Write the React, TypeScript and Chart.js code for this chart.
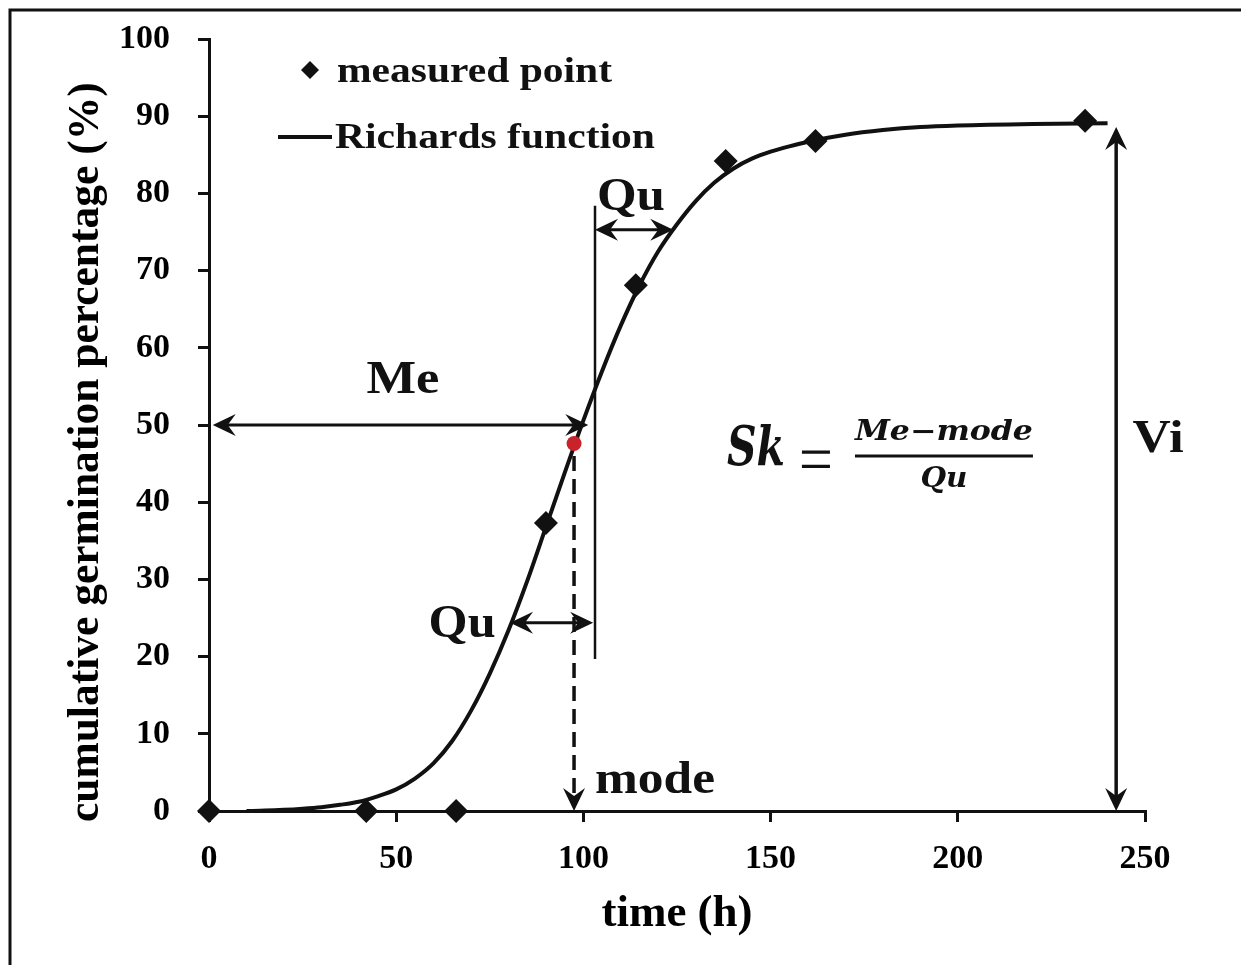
import React, { useEffect, useRef } from "react";
import { Chart, registerables } from "chart.js";

Chart.register(...registerables);

const SERIF = '"Liberation Serif", "Times New Roman", serif';
const MATH = '"DejaVu Serif", serif';
const INK = "#111111";

// measured points
const measuredTime = [0, 42, 66, 90, 114, 138, 162, 234];
const measuredPct = [0, 0, 0, 37.3, 68.1, 84.2, 86.8, 89.4];

// fitted Richards curve
const curveTime = [10, 15, 20, 25, 30, 35, 40, 45, 50, 55, 60, 65, 70, 75, 80, 85, 90, 95, 100, 105, 110, 115, 120, 125, 130, 135, 140, 145, 150, 155, 160, 170, 180, 190, 200, 220, 240];
const curvePct = [0, 0.05, 0.15, 0.3, 0.5, 0.8, 1.2, 1.9, 2.8, 4.2, 6.2, 9.1, 13.0, 17.8, 23.4, 29.8, 36.8, 43.8, 50.6, 57.0, 62.9, 68.1, 72.5, 76.0, 79.0, 81.4, 83.2, 84.5, 85.4, 86.1, 86.7, 87.6, 88.2, 88.6, 88.8, 89.0, 89.1];

// axis ticks
const xTicks = [0, 50, 100, 150, 200, 250];
const yTicks = [0, 10, 20, 30, 40, 50, 60, 70, 80, 90, 100];

// annotation geometry in data units [time, percent]
const meArrow = [[1, 50], [101.3, 50]];
const quUpperArrow = [[103.1, 75.3], [124, 75.3]];
const quLowerArrow = [[80.4, 24.4], [102.6, 24.4]];
const viArrow = [[242.3, 88.6], [242.3, 0]];
const modeDash = [[97.5, 46], [97.5, 0]];
const quartileLine = [[103.1, 78.4], [103.1, 19.7]];
const modePoint = [97.5, 47.6];

// annotation labels
const labelText = ["Me", "Qu", "Qu", "mode", "Vi"];
const labelTime = [51.8, 112.7, 67.6, 103.1, 253.5];
const labelPct = [54.1, 77.8, 22.5, 2.3, 46.5];
const labelAlign = ["center", "center", "center", "left", "center"];
const labelWidth = [73, 68, 67, 120, 51];
const formulaAnchor = [196.3, 46.0];

function fillTextFit(ctx: CanvasRenderingContext2D, text: string, x: number, y: number, font: string, width: number, align: string) {
  ctx.save();
  ctx.font = font;
  ctx.textBaseline = "alphabetic";
  ctx.textAlign = "left";
  const w = ctx.measureText(text).width;
  const sx = width / w;
  let left = x;
  if (align === "center") left = x - width / 2;
  else if (align === "right") left = x - width;
  ctx.translate(left, y);
  ctx.scale(sx, 1);
  ctx.fillText(text, 0, 0);
  ctx.restore();
}

function head(ctx: CanvasRenderingContext2D, tx: number, ty: number, fx: number, fy: number, L = 23, W = 11, notch = 8) {
  const dx = tx - fx, dy = ty - fy;
  const len = Math.hypot(dx, dy) || 1;
  const ux = dx / len, uy = dy / len;
  const nx = -uy, ny = ux;
  ctx.beginPath();
  ctx.moveTo(tx, ty);
  ctx.lineTo(tx - ux * L + nx * W, ty - uy * L + ny * W);
  ctx.lineTo(tx - ux * (L - notch), ty - uy * (L - notch));
  ctx.lineTo(tx - ux * L - nx * W, ty - uy * L - ny * W);
  ctx.closePath();
  ctx.fill();
}

function arrow(ctx: CanvasRenderingContext2D, a: number[], b: number[], both: boolean, lw: number, dash?: number[]) {
  const [ax, ay] = a, [bx, by] = b;
  const len = Math.hypot(bx - ax, by - ay);
  const ux = (bx - ax) / len, uy = (by - ay) / len;
  const inset = 14;
  const sx = both ? ax + ux * inset : ax, sy = both ? ay + uy * inset : ay;
  const ex = bx - ux * inset, ey = by - uy * inset;
  ctx.save();
  ctx.lineWidth = lw;
  ctx.strokeStyle = INK;
  ctx.fillStyle = INK;
  if (dash) ctx.setLineDash(dash);
  ctx.beginPath();
  ctx.moveTo(sx, sy);
  ctx.lineTo(ex, ey);
  ctx.stroke();
  ctx.setLineDash([]);
  head(ctx, bx, by, ax, ay);
  if (both) head(ctx, ax, ay, bx, by);
  ctx.restore();
}

const annotatePlugin = {
  id: "annotate",
  beforeDraw(chart: any) {
    const { ctx, width, height } = chart;
    ctx.save();
    ctx.fillStyle = "#ffffff";
    ctx.fillRect(0, 0, width, height);
    ctx.strokeStyle = INK;
    ctx.lineWidth = 3;
    ctx.strokeRect(10, 10, width + 40, height + 40);
    ctx.restore();
  },
  afterDatasetsDraw(chart: any) {
    const { ctx, chartArea } = chart;
    const xs = chart.scales.x, ys = chart.scales.y;
    const P = (p: number[]) => [xs.getPixelForValue(p[0]), ys.getPixelForValue(p[1])];

    // vertical quartile line
    ctx.save();
    ctx.strokeStyle = INK;
    ctx.lineWidth = 2.5;
    const q0 = P(quartileLine[0]), q1 = P(quartileLine[1]);
    ctx.beginPath();
    ctx.moveTo(q0[0], q0[1]);
    ctx.lineTo(q1[0], q1[1]);
    ctx.stroke();
    ctx.restore();

    arrow(ctx, P(meArrow[0]), P(meArrow[1]), true, 3);
    arrow(ctx, P(quUpperArrow[0]), P(quUpperArrow[1]), true, 3);
    arrow(ctx, P(quLowerArrow[0]), P(quLowerArrow[1]), true, 3);
    arrow(ctx, P(viArrow[0]), P(viArrow[1]), true, 3.5);
    arrow(ctx, P(modeDash[0]), P(modeDash[1]), false, 3.5, [15, 8]);

    // mode point
    const m = P(modePoint);
    ctx.save();
    ctx.fillStyle = "#c8232a";
    ctx.beginPath();
    ctx.arc(m[0], m[1], 7.5, 0, Math.PI * 2);
    ctx.fill();
    ctx.restore();

    // labels
    ctx.save();
    ctx.fillStyle = INK;
    for (let i = 0; i < labelText.length; i++) {
      const [lx, ly] = P([labelTime[i], labelPct[i]]);
      fillTextFit(ctx, labelText[i], lx, ly, `bold 46px ${SERIF}`, labelWidth[i], labelAlign[i]);
    }
    ctx.restore();

    // formula
    const [fx, fy] = P(formulaAnchor);
    ctx.save();
    ctx.fillStyle = INK;
    ctx.strokeStyle = INK;
    fillTextFit(ctx, "Sk", fx - 217, fy + 9, `italic bold 54px ${MATH}`, 58, "left");
    ctx.lineWidth = 3.2;
    ctx.beginPath();
    ctx.moveTo(fx - 142, fy - 3.7);
    ctx.lineTo(fx - 114, fy - 3.7);
    ctx.moveTo(fx - 142, fy + 10.5);
    ctx.lineTo(fx - 114, fy + 10.5);
    ctx.stroke();
    ctx.lineWidth = 3;
    ctx.beginPath();
    ctx.moveTo(fx - 89, fy);
    ctx.lineTo(fx + 89, fy);
    ctx.stroke();
    fillTextFit(ctx, "Me\u2212mode", fx, fy - 16, `italic bold 27px ${MATH}`, 178, "center");
    fillTextFit(ctx, "Qu", fx, fy + 31, `italic bold 27px ${MATH}`, 47, "center");
    ctx.restore();

    // legend
    const L = chartArea.left, T = chartArea.top;
    ctx.save();
    ctx.fillStyle = INK;
    const dx = L + 101, dy = T + 31, r = 9;
    ctx.beginPath();
    ctx.moveTo(dx - r, dy);
    ctx.lineTo(dx, dy - r);
    ctx.lineTo(dx + r, dy);
    ctx.lineTo(dx, dy + r);
    ctx.closePath();
    ctx.fill();
    fillTextFit(ctx, "measured point", L + 128, T + 43, `bold 36px ${SERIF}`, 275, "left");
    ctx.strokeStyle = INK;
    ctx.lineWidth = 4;
    ctx.beginPath();
    ctx.moveTo(L + 69, T + 98);
    ctx.lineTo(L + 123, T + 98);
    ctx.stroke();
    fillTextFit(ctx, "Richards function", L + 126, T + 109, `bold 36px ${SERIF}`, 320, "left");
    ctx.restore();
  },
};

export default function App() {
  const ref = useRef<HTMLCanvasElement | null>(null);

  useEffect(() => {
    if (!ref.current) return;
    const measured = measuredTime.map((t, i) => ({ x: t, y: measuredPct[i] }));
    const curve = curveTime.map((t, i) => ({ x: t, y: curvePct[i] }));
    const tickFont = { family: SERIF, weight: "bold" as const, size: 34 };

    const chart = new Chart(ref.current, {
      type: "scatter",
      data: {
        datasets: [
          {
            label: "measured point",
            data: measured,
            pointStyle: "rectRot",
            pointRadius: 12,
            pointHoverRadius: 12,
            backgroundColor: INK,
            borderColor: INK,
            borderWidth: 0,
            showLine: false,
            clip: false as any,
            order: 0,
          },
          {
            label: "Richards function",
            data: curve,
            showLine: true,
            pointRadius: 0,
            borderColor: INK,
            borderWidth: 4,
            cubicInterpolationMode: "monotone",
            clip: false as any,
            order: 1,
          },
        ],
      },
      options: {
        responsive: false,
        animation: false,
        devicePixelRatio: 1,
        events: [],
        layout: { autoPadding: false, padding: { top: 39, right: 96, left: 0, bottom: 0 } },
        plugins: { legend: { display: false }, tooltip: { enabled: false } },
        scales: {
          x: {
            type: "linear",
            min: 0,
            max: 250,
            afterBuildTicks: (s: any) => {
              s.ticks = xTicks.map((v) => ({ value: v }));
            },
            afterFit: (s: any) => {
              s.height = 154;
              s.paddingLeft = 0;
              s.paddingRight = 0;
            },
            ticks: { font: tickFont, color: "#000", padding: 17, maxRotation: 0, autoSkip: false },
            grid: { display: true, drawOnChartArea: false, drawTicks: true, tickLength: 11, color: INK, lineWidth: 3 },
            border: { display: true, color: INK, width: 3 },
            title: {
              display: true,
              text: "time (h)",
              color: "#000",
              font: { family: SERIF, weight: "bold", size: 45 },
              padding: { top: 0, bottom: 24 },
            },
          },
          y: {
            type: "linear",
            min: 0,
            max: 100,
            afterBuildTicks: (s: any) => {
              s.ticks = yTicks.map((v) => ({ value: v }));
            },
            afterFit: (s: any) => {
              s.width = 209;
              s.paddingTop = 0;
              s.paddingBottom = 0;
            },
            ticks: { font: tickFont, color: "#000", padding: 28, autoSkip: false },
            grid: { display: true, drawOnChartArea: false, drawTicks: true, tickLength: 11, color: INK, lineWidth: 3 },
            border: { display: true, color: INK, width: 3 },
            title: {
              display: true,
              text: "cumulative germination percentage (%)     ",
              color: "#000",
              font: { family: SERIF, weight: "bold", size: 43.5 },
              padding: { top: 61, bottom: 0 },
            },
          },
        },
      },
      plugins: [annotatePlugin],
    });
    return () => chart.destroy();
  }, []);

  return (
    <div style={{ position: "fixed", left: 0, top: 0, width: 1241, height: 965, background: "#fff" }}>
      <canvas ref={ref} width={1241} height={965} style={{ display: "block", width: 1241, height: 965 }} />
    </div>
  );
}
